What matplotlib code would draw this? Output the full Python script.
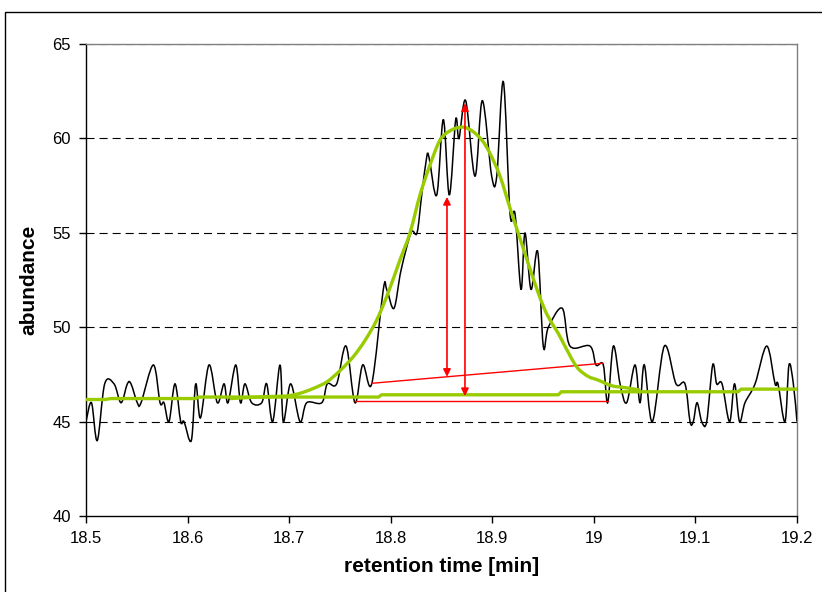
import matplotlib
matplotlib.use("Agg")
import matplotlib.pyplot as plt
from matplotlib.patches import Rectangle, PathPatch
from matplotlib.path import Path

# --- Data ---

# raw ion trace (black)
trace_time = [
    18.5000, 18.5054, 18.5111, 18.5184, 18.5276, 18.5345, 18.5407, 18.5443,
    18.5505, 18.5542, 18.5663, 18.5729, 18.5768, 18.5817, 18.5876, 18.5932,
    18.5965, 18.6037, 18.6080, 18.6127, 18.6211, 18.6293, 18.6359, 18.6398,
    18.6474, 18.6521, 18.6565, 18.6631, 18.6730, 18.6779, 18.6838, 18.6910,
    18.6943, 18.7015, 18.7107, 18.7173, 18.7321, 18.7376, 18.7468, 18.7560,
    18.7648, 18.7724, 18.7813, 18.7927, 18.7961, 18.8032, 18.8101, 18.8200,
    18.8259, 18.8305, 18.8354, 18.8377, 18.8453, 18.8518, 18.8577, 18.8640,
    18.8672, 18.8738, 18.8830, 18.8902, 18.8994, 18.9044, 18.9109, 18.9175,
    18.9224, 18.9283, 18.9322, 18.9381, 18.9447, 18.9502, 18.9552, 18.9689,
    18.9765, 18.9962, 19.0021, 19.0093, 19.0136, 19.0192, 19.0258, 19.0323,
    19.0405, 19.0454, 19.0497, 19.0576, 19.0694, 19.0809, 19.0897, 19.0947,
    19.0979, 19.1016, 19.1062, 19.1111, 19.1170, 19.1209, 19.1262, 19.1336,
    19.1385, 19.1434, 19.1488, 19.1587, 19.1702, 19.1784, 19.1813, 19.1882,
    19.1921, 19.1964, 19.2000,
]
trace_abund = [
    45, 46, 44, 47, 47, 46, 47, 47,
    46, 46, 48, 46, 46, 45, 47, 45,
    45, 44, 47, 45.2, 48, 46, 47, 46,
    48, 46, 47, 46, 46, 47, 45, 48,
    45, 47, 45, 46, 46, 47, 47, 49,
    46, 48, 47, 52, 52, 51, 53, 55,
    55, 57, 59, 59, 57, 61, 57, 61,
    60, 62, 58, 62, 58, 58, 63, 56,
    56, 52, 55, 52, 54, 49, 50, 51,
    49, 49, 48, 48, 46, 49, 47, 46,
    48, 46, 48, 45, 49, 47, 47, 45,
    45, 46, 45, 45, 48, 47, 47, 45,
    47, 45, 46, 47, 49, 47, 47, 45,
    48, 47, 45,
]

# fitted peak (green curve)
fit_time = [
    18.6418, 18.6615, 18.6812, 18.6976, 18.7107, 18.7235, 18.7370, 18.7501,
    18.7632, 18.7747, 18.7862, 18.7973, 18.8091, 18.8190, 18.8288, 18.8387,
    18.8485, 18.8583, 18.8702, 18.8800, 18.8899, 18.8978, 18.9076, 18.9175,
    18.9273, 18.9352, 18.9440, 18.9519, 18.9588, 18.9647, 18.9715, 18.9831,
    18.9942, 19.0041, 19.0176, 19.0307, 19.0454,
]
fit_abund = [
    46.22, 46.28, 46.33, 46.36, 46.50, 46.75, 47.10, 47.70,
    48.44, 49.30, 50.38, 51.80, 53.56, 55.00, 57.00, 58.60,
    59.90, 60.40, 60.60, 60.40, 59.90, 59.20, 58.00, 56.30,
    54.70, 53.40, 52.00, 50.90, 50.20, 49.70, 49.00, 47.90,
    47.40, 47.20, 46.90, 46.80, 46.67,
]

# fitted baseline (green, stepwise)
base_time = [18.500, 18.519, 18.524, 18.608, 18.611, 18.788, 18.791,
             18.965, 18.968, 19.142, 19.145, 19.200]
base_abund = [46.17, 46.17, 46.22, 46.22, 46.30, 46.30, 46.42,
              46.42, 46.58, 46.58, 46.72, 46.72]

# red construction lines and arrows
hline_time = [18.7648, 19.0139]
hline_abund = [46.09, 46.09]
slant_time = [18.7816, 19.0090]
slant_abund = [47.03, 48.09]
arrow_time = [18.8554, 18.8731]
arrow_low = [47.37, 46.35]
arrow_high = [56.9, 61.86]

x_ticks = [18.5, 18.6, 18.7, 18.8, 18.9, 19.0, 19.1, 19.2]
x_tick_labels = ["18.5", "18.6", "18.7", "18.8", "18.9", "19", "19.1", "19.2"]
y_ticks = [40, 45, 50, 55, 60, 65]

# --- Style ---
plt.rcParams["font.family"] = ["Liberation Sans", "DejaVu Sans"]
plt.rcParams["lines.scale_dashes"] = False

GREEN = "#99CC00"
RED = "#FF0000"


def smooth_path(xs, ys):
    """Spreadsheet-style smoothed line: cubic Bezier through every point."""
    n = len(xs)
    verts = [(xs[0], ys[0])]
    codes = [Path.MOVETO]
    for i in range(n - 1):
        x0, y0 = xs[max(i - 1, 0)], ys[max(i - 1, 0)]
        x1, y1 = xs[i], ys[i]
        x2, y2 = xs[i + 1], ys[i + 1]
        x3, y3 = xs[min(i + 2, n - 1)], ys[min(i + 2, n - 1)]
        verts += [(x1 + (x2 - x0) / 6, y1 + (y2 - y0) / 6),
                  (x2 - (x3 - x1) / 6, y2 - (y3 - y1) / 6),
                  (x2, y2)]
        codes += [Path.CURVE4] * 3
    return Path(verts, codes)


fig = plt.figure(figsize=(8.22, 5.92), dpi=100)
ax = fig.add_axes([86 / 822, 1 - 516 / 592, (797 - 86) / 822, (516 - 44) / 592])

# gridlines
for y in y_ticks[1:]:
    ax.axhline(y, color="black", lw=0.8, dashes=(5.8, 3.6), zorder=1)

ax.add_patch(PathPatch(smooth_path(trace_time, trace_abund), fill=False,
                       edgecolor="black", lw=1.1, zorder=3))

ax.plot(hline_time, hline_abund, color=RED, lw=1.0, zorder=4)
ax.plot(slant_time, slant_abund, color=RED, lw=1.0, zorder=4)

ax.plot(base_time, base_abund, color=GREEN, lw=2.4, zorder=5)
ax.add_patch(PathPatch(smooth_path(fit_time, fit_abund), fill=False,
                       edgecolor=GREEN, lw=2.4, zorder=5))

for t, lo, hi in zip(arrow_time, arrow_low, arrow_high):
    ax.annotate("", xy=(t, hi), xytext=(t, lo),
                arrowprops=dict(arrowstyle="<|-|>", color=RED, lw=1.2,
                                mutation_scale=11, shrinkA=0, shrinkB=0),
                zorder=6)

ax.set_xlim(18.5, 19.2)
ax.set_ylim(40, 65)
ax.set_xticks(x_ticks)
ax.set_xticklabels(x_tick_labels)
ax.set_yticks(y_ticks)

ax.tick_params(axis="both", direction="out", length=5, width=1,
               labelsize=12, color="black", pad=6)

for side in ("left", "bottom"):
    ax.spines[side].set_color("black")
    ax.spines[side].set_linewidth(1.0)
for side in ("top", "right"):
    ax.spines[side].set_color("#808080")
    ax.spines[side].set_linewidth(1.0)

ax.set_xlabel("retention time [min]", fontsize=15, fontweight="bold", labelpad=8)
ax.set_ylabel("abundance", fontsize=15, fontweight="bold", labelpad=10)

# chart area border
fig.patches.append(Rectangle((5 / 822, -0.05), 1.2, 1.05 - 12 / 592,
                             transform=fig.transFigure, fill=False,
                             edgecolor="black", lw=1.0, clip_on=False))

fig.savefig("out.png", dpi=100)
